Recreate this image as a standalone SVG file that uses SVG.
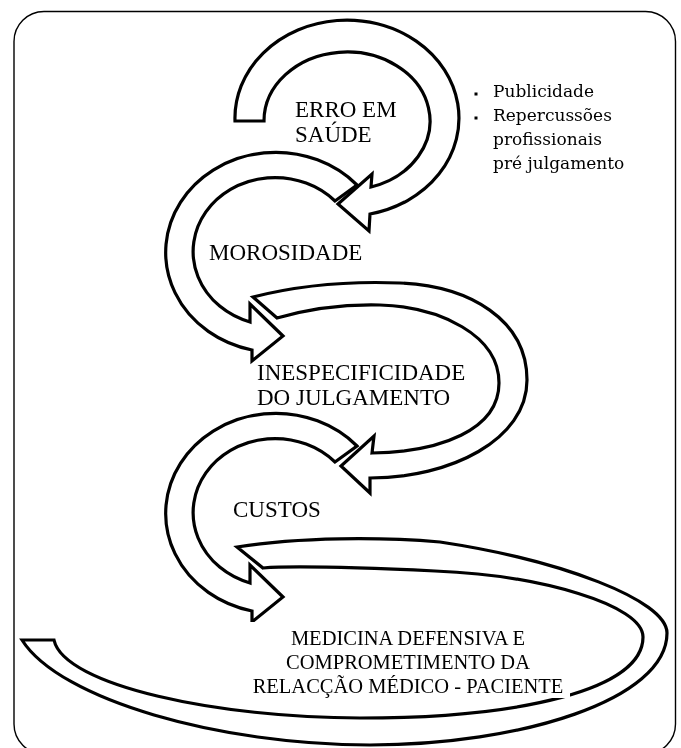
<svg xmlns="http://www.w3.org/2000/svg" width="681" height="748" viewBox="0 0 681 748">
  <defs>
    <style>
      .arrow { fill: #ffffff; stroke: #000000; stroke-width: 3.2; stroke-linejoin: miter; stroke-miterlimit: 10; }
      .lbl { font-family: "Liberation Serif", "Times New Roman", serif; font-size: 23px; fill: #000000; }
      .lbl2 { font-family: "Liberation Serif", "Times New Roman", serif; font-size: 20.5px; fill: #000000; }
      .bul { font-family: "DejaVu Serif", "Liberation Serif", serif; font-size: 17px; fill: #000000; }
    </style>
    <filter id="soft" x="-5%" y="-5%" width="110%" height="110%">
      <feGaussianBlur stdDeviation="0.45"/>
    </filter>
    <path id="loopArrow" d="M 357,185 A 110,100 0 1 0 252,350 L 252,361 L 283,336 L 250,304 L 250,322 A 82,74 0 1 1 335,201 Z"/>
  </defs>

  <rect x="0" y="0" width="681" height="748" fill="#ffffff"/>

  <!-- frame -->
  <rect id="frame" x="14" y="11.5" width="661.5" height="742.5" rx="30" ry="30" fill="none" stroke="#000000" stroke-width="1.4"/>

  <g id="connectors" filter="url(#soft)">
    <g id="arrow1">
      <path class="arrow" d="M 235,121 A 112,98 0 1 1 370,214 L 369,231 L 338,204 L 372,174 L 371,187 A 83,69 0 1 0 264,121 Z"/>
    </g>
    <g id="arrow2">
      <use href="#loopArrow" class="arrow"/>
    </g>
    <g id="arrow3">
      <path class="arrow" d="M 253,297 C 300,285 350,281 400,283 C 470,286 527,320 527,380 C 527,440 450,478 370,478 L 370,493 L 341,466 L 374,436 L 372,453 C 440,452 499,430 499,383 C 499,335 440,307 380,305 C 340,304 305,310 277,318 Z"/>
    </g>
    <g id="arrow4">
      <use href="#loopArrow" class="arrow" transform="translate(0,261)"/>
    </g>
    <g id="arrow5">
      <path class="arrow" d="M 237,547 C 300,537 380,537 440,542 C 560,560 667,600 667,633 C 667,700 520,745 370,745 C 220,745 60,700 22,640 L 54,640 C 64,686 220,718 360,718 C 520,718 643,690 643,637 C 643,605 540,575 435,571 C 370,568 300,565 263,568 Z"/>
    </g>
  </g>

  <!-- white text background of the last label (clips arrowhead bottom) -->
  <rect x="248" y="622" width="322" height="76" fill="#ffffff"/>

  <g id="node-erro">
    <text class="lbl" x="295" y="117">ERRO EM</text>
    <text class="lbl" x="295" y="142">SAÚDE</text>
  </g>
  <g id="node-notes">
    <rect x="474.5" y="92.5" width="3" height="3" fill="#000000"/>
    <rect x="474.5" y="116.5" width="3" height="3" fill="#000000"/>
    <text class="bul" x="493" y="97">Publicidade</text>
    <text class="bul" x="493" y="121">Repercussões</text>
    <text class="bul" x="493" y="145">profissionais</text>
    <text class="bul" x="493" y="169">pré julgamento</text>
  </g>
  <g id="node-morosidade">
    <text class="lbl" x="209" y="260">MOROSIDADE</text>
  </g>
  <g id="node-inespecificidade">
    <text class="lbl" x="257" y="380">INESPECIFICIDADE</text>
    <text class="lbl" x="257" y="405">DO JULGAMENTO</text>
  </g>
  <g id="node-custos">
    <text class="lbl" x="233" y="517">CUSTOS</text>
  </g>
  <g id="node-medicina">
    <text class="lbl2" x="408" y="645" text-anchor="middle">MEDICINA DEFENSIVA E</text>
    <text class="lbl2" x="408" y="669" text-anchor="middle">COMPROMETIMENTO DA</text>
    <text class="lbl2" x="408" y="693" text-anchor="middle">RELACÇÃO MÉDICO - PACIENTE</text>
  </g>
</svg>
